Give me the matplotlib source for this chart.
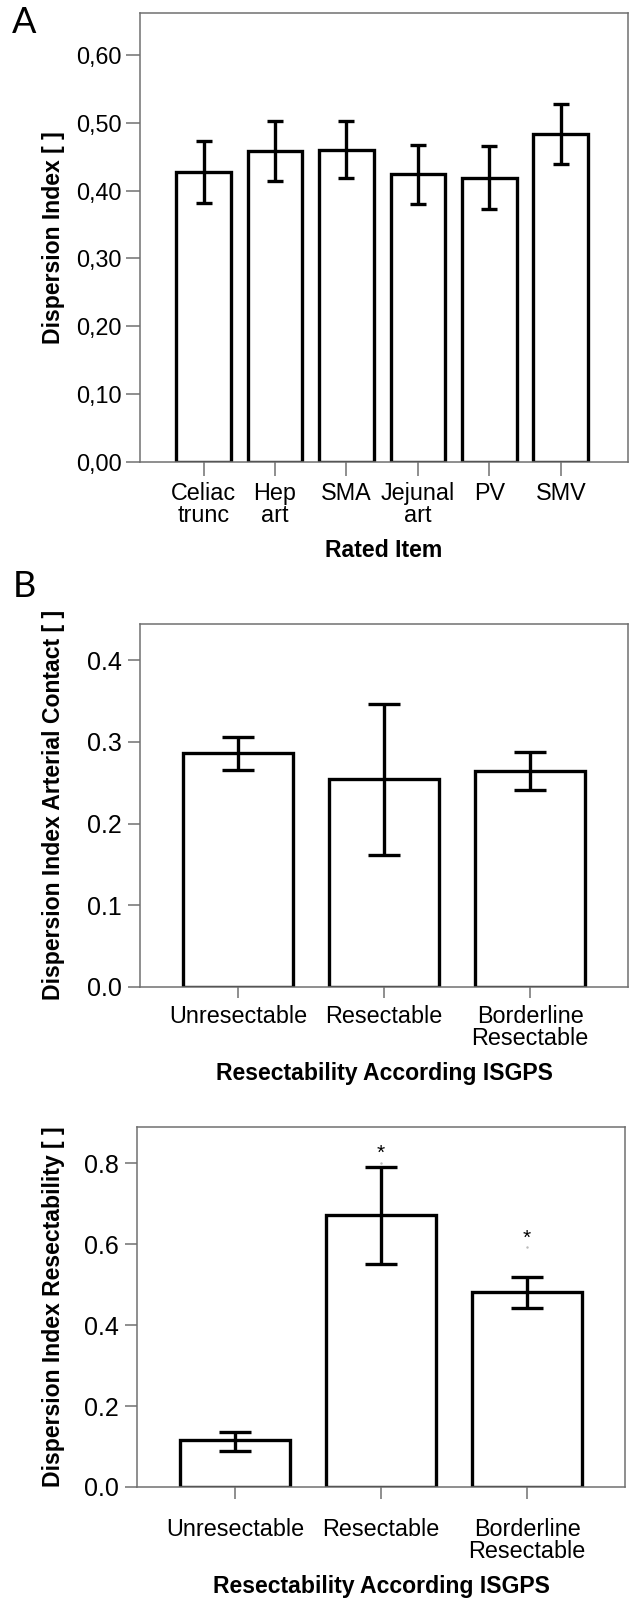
import numpy as np
import matplotlib
matplotlib.use("Agg")
import matplotlib.pyplot as plt
from matplotlib.ticker import FuncFormatter, MultipleLocator

plt.rcParams['font.family'] = ['Liberation Sans', 'DejaVu Sans']

# ---------------------------------------------------------
# Data
# ---------------------------------------------------------
items_a = ["Celiac\ntrunc", "Hep\nart", "SMA", "Jejunal\nart", "PV", "SMV"]
mean_a = [0.428, 0.459, 0.460, 0.424, 0.419, 0.483]
low_a = [0.382, 0.414, 0.418, 0.380, 0.373, 0.439]
high_a = [0.473, 0.503, 0.502, 0.467, 0.465, 0.527]

groups_b = ["Unresectable", "Resectable", "Borderline\nResectable"]
mean_art = [0.287, 0.255, 0.265]
low_art = [0.266, 0.162, 0.241]
high_art = [0.306, 0.346, 0.288]

mean_res = [0.115, 0.672, 0.481]
low_res = [0.090, 0.551, 0.443]
high_res = [0.137, 0.790, 0.519]
star_res = ["", "*", "*"]
star_y = [np.nan, 0.838, 0.628]
dot_y = [np.nan, 0.801, 0.593]

# ---------------------------------------------------------
# Layout helpers (pixels -> figure fractions)
# ---------------------------------------------------------
W, H = 632, 1603
fig = plt.figure(figsize=(W / 100, H / 100), dpi=100)
fig.patch.set_facecolor("white")

FRAME = "#707070"
TICK_FS = 16.8
LABEL_FS = 16.6


def px_axes(left, top, right, bottom):
    return fig.add_axes([left / W, 1 - bottom / H, (right - left) / W, (bottom - top) / H])


def bar_panel(ax, labels, mean, low, high, width, capsize, xlim, ylim):
    x = np.arange(len(labels))
    mean = np.array(mean)
    yerr = [mean - np.array(low), np.array(high) - mean]
    ax.bar(x, mean, width=width, color="white", edgecolor="black", linewidth=2.4, zorder=2)
    ax.errorbar(x, mean, yerr=yerr, fmt="none", ecolor="black", elinewidth=2.4,
                capsize=capsize, capthick=2.4, zorder=3)
    ax.set_xlim(*xlim)
    ax.set_ylim(*ylim)
    ax.set_xticks(x)
    ax.set_xticklabels(labels, fontsize=TICK_FS, linespacing=0.95)
    for s in ax.spines.values():
        s.set_color(FRAME)
        s.set_linewidth(1.1)
    ax.tick_params(colors=FRAME, labelcolor="black", width=1.1, labelsize=TICK_FS)
    return x


# ---------------------------------------------------------
# Panel A
# ---------------------------------------------------------
ax_a = px_axes(140, 13, 628, 461.5)
bar_panel(ax_a, items_a, mean_a, low_a, high_a, 0.767, 5.5, (-0.89, 5.94), (0, 0.662))
ax_a.yaxis.set_major_locator(MultipleLocator(0.1))
ax_a.yaxis.set_major_formatter(FuncFormatter(lambda v, p: f"{v:.2f}".replace(".", ",")))
ax_a.tick_params(axis="y", length=10, pad=3)
ax_a.tick_params(axis="x", length=10, pad=5)
ax_a.set_ylabel("Dispersion Index [ ]", fontsize=LABEL_FS, fontweight="bold")
ax_a.yaxis.set_label_coords(-0.154, 0.5)
ax_a.set_xlabel("Rated Item", fontsize=LABEL_FS, fontweight="bold", va="top")
ax_a.xaxis.set_label_coords(0.5, -0.172)

# ---------------------------------------------------------
# Panel B - arterial contact
# ---------------------------------------------------------
ax_b1 = px_axes(140, 623.5, 628, 987)
bar_panel(ax_b1, groups_b, mean_art, low_art, high_art, 0.756, 11.5, (-0.67, 2.67), (0, 0.445))
ax_b1.yaxis.set_major_locator(MultipleLocator(0.1))
ax_b1.yaxis.set_major_formatter(FuncFormatter(lambda v, p: f"{v:.1f}"))
ax_b1.tick_params(axis="y", length=8.5, pad=4.5, labelsize=18)
ax_b1.tick_params(axis="x", length=8, pad=5)
ax_b1.set_ylabel("Dispersion Index Arterial Contact [ ]", fontsize=LABEL_FS, fontweight="bold")
ax_b1.yaxis.set_label_coords(-0.154, 0.5)
ax_b1.set_xlabel("Resectability According ISGPS", fontsize=LABEL_FS, fontweight="bold", va="top")
ax_b1.xaxis.set_label_coords(0.5, -0.207)

# ---------------------------------------------------------
# Panel B - resectability
# ---------------------------------------------------------
ax_b2 = px_axes(137, 1127, 625, 1487)
xb = bar_panel(ax_b2, groups_b, mean_res, low_res, high_res, 0.756, 11.5, (-0.67, 2.67), (0, 0.89))
ax_b2.yaxis.set_major_locator(MultipleLocator(0.2))
ax_b2.yaxis.set_major_formatter(FuncFormatter(lambda v, p: f"{v:.1f}"))
ax_b2.tick_params(axis="y", length=8.5, pad=4.5, labelsize=18)
ax_b2.tick_params(axis="x", length=8.5, pad=13.5)
ax_b2.set_ylabel("Dispersion Index Resectability [ ]", fontsize=LABEL_FS, fontweight="bold")
ax_b2.yaxis.set_label_coords(-0.148, 0.5)
ax_b2.set_xlabel("Resectability According ISGPS", fontsize=LABEL_FS, fontweight="bold", va="top")
ax_b2.xaxis.set_label_coords(0.5, -0.245)

# significance marks; the asterisk glyph sits high in its box, so shift it down
for xi, s, sy, dy in zip(xb, star_res, star_y, dot_y):
    if s:
        ax_b2.annotate(s, (xi, sy), xytext=(0, -4), textcoords="offset points",
                       ha="center", va="center", fontsize=15)
        ax_b2.plot(xi, dy, marker=".", ms=1.5, color="#bbbbbb")

# Panel letters
fig.text(12 / W, 1 - 6 / H, "A", fontsize=26, family="Lato", va="top", ha="left")
fig.text(13 / W, 1 - 570 / H, "B", fontsize=26, family="Lato", va="top", ha="left")

fig.savefig("out.png", dpi=100, facecolor="white")
